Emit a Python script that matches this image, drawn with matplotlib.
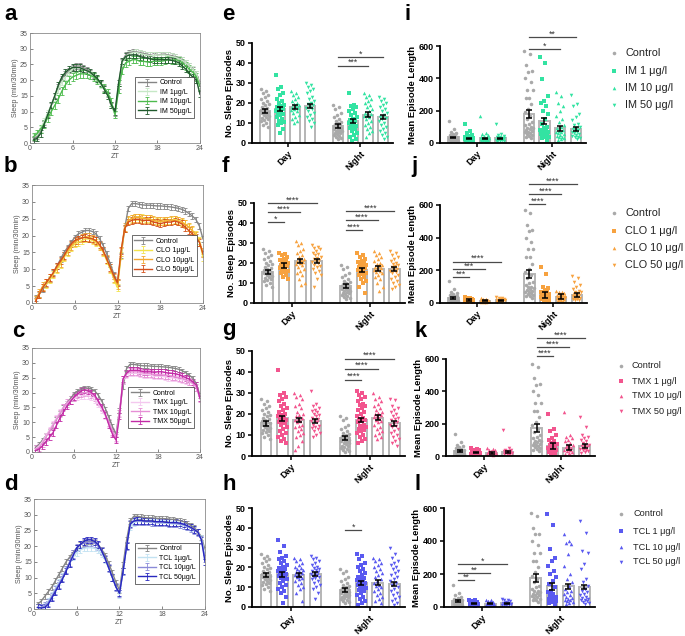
import numpy as np
import matplotlib
matplotlib.use('Agg')
import matplotlib.pyplot as plt
from matplotlib.lines import Line2D

plt.rcParams['font.family'] = ['Liberation Sans', 'DejaVu Sans']

W, H = 685, 636

# ---------------- sleep profiles (min sleep per 30 min bin) ----------------
zt = np.arange(0.5, 24.01, 0.5)

ctrl_a = [1.5, 2, 4, 6.5, 9, 12, 15, 18, 20.5, 22, 23, 24, 24.5, 24.5, 24, 23.5, 22.5, 21.5, 20.5, 19, 17.5, 15.5, 12, 9.5,
          18, 26, 28, 28.7, 29, 29, 28.8, 28.5, 28.3, 28, 27.8, 28, 28.2, 28.3, 28, 27.8, 27.5, 27, 26.5, 25.5, 24.5, 23.5, 22, 19]
im1 = [2, 2.5, 4.5, 7, 9.5, 12, 14.5, 17, 19.5, 21, 22.5, 23.5, 24, 24, 23.5, 23, 22, 21, 20, 18.5, 17, 15, 12, 9,
       17, 25.5, 27.5, 28.3, 28.7, 28.8, 28.5, 28.2, 28, 27.8, 27.8, 28, 28, 28, 27.8, 27.5, 27.3, 26.8, 26.3, 25.5, 24.5, 23.5, 22, 18.5]
im10 = [2, 3, 4.5, 6, 8, 10, 12, 14, 16.5, 18.5, 20, 21, 21.5, 22, 22, 22, 21.5, 21, 20, 19, 17.5, 16, 13, 9,
        17, 23, 25.5, 26, 26.5, 26.5, 26, 26, 25.8, 25.8, 26, 26, 26, 26.2, 26.5, 26.3, 26.5, 26.3, 25.5, 24.5, 23.5, 22.5, 21, 18]
im50 = [1, 1.5, 3, 6, 9, 12, 15, 18.5, 21, 22.5, 23.5, 24, 24, 24, 23.5, 23, 22.5, 21.5, 20.5, 19, 17, 15, 12, 10,
        19, 26, 27.5, 28, 28, 28, 27.5, 27.2, 27, 26.8, 26.5, 26.5, 26.5, 26.5, 26.5, 26.3, 26, 25.5, 24.5, 23.5, 22, 21, 20, 15.5]

ctrl = [1.5, 2.5, 4, 5.5, 7, 9, 11, 13, 15, 16.5, 18, 19.5, 20.5, 21, 21.5, 21.5, 21.2, 20.5, 19, 17, 14.5, 11.5, 8.5, 6,
        14, 22, 28, 29.5, 29.5, 29.3, 29.1, 29, 29, 28.9, 28.8, 28.8, 28.7, 28.6, 28.5, 28.3, 28.1, 27.8, 27.3, 26.6, 25.8, 24.8, 22.8, 19]
clo1 = [1, 2.5, 4.5, 5.5, 7, 8.5, 10, 11.5, 13.5, 15, 16.5, 17.5, 18, 18.5, 19, 19, 18.5, 18, 17, 15, 12.5, 10, 7, 4.5,
        14, 22, 24.5, 25, 25.5, 25.5, 25.3, 25, 25, 24.5, 24.3, 24, 24.3, 24.5, 24.5, 24.8, 24.5, 24, 23.5, 22.5, 21.5, 20.5, 18.5, 13.5]
clo10 = [1, 3, 5, 6, 7.5, 9, 10.5, 12, 14, 15.5, 17, 18, 18.8, 19.3, 19.5, 19.5, 19, 18.3, 17, 15.3, 13, 10.5, 7.5, 5.5,
         15, 22.5, 24.5, 25, 25.3, 25.3, 25, 25, 24.8, 24.5, 24.3, 24.3, 24.3, 24.3, 24.5, 24.5, 24.3, 24, 23.3, 22.5, 21.5, 20, 18, 15]
clo50 = [0.5, 2.5, 4.5, 6, 7.5, 9, 11, 12.5, 14, 16, 17.5, 18.5, 19, 19.3, 19.5, 19.2, 19, 18.5, 17.3, 15.5, 13, 10.5, 8, 6,
         15.5, 22, 24, 24.5, 24.8, 24.8, 24.5, 24.5, 24.5, 24, 23.8, 23.5, 23.8, 24, 24, 24.3, 24, 23.5, 22.5, 21.5, 20.5, 19.5, 18, 14.5]
tmx1 = [1, 2, 3.5, 5.5, 7.5, 9.5, 11.5, 13.5, 15, 16, 17, 18, 18.5, 19, 19, 19, 18.5, 17.5, 16, 14, 12, 9.5, 6.5, 4.5,
        13, 24, 26, 26.5, 26.5, 26.5, 26.3, 26, 26, 25.8, 25.5, 25.5, 25.5, 25.3, 25, 25, 24.8, 24.5, 24.3, 24, 23.5, 23, 21.5, 18]
tmx10 = [1, 1.5, 3, 5, 7, 9, 11, 13, 15, 16.5, 17.5, 18.5, 19.3, 19.8, 20, 20, 19.5, 18.5, 17, 15, 12.5, 10, 7, 5,
         13, 24.5, 26.5, 27, 27, 27, 26.8, 26.5, 26.5, 26.3, 26, 26, 26, 25.8, 25.8, 25.5, 25.3, 25, 24.8, 24.3, 23.8, 23, 21.8, 18]
tmx50 = [0.5, 1, 2, 3.5, 5, 6.5, 9, 11.5, 13.5, 15.5, 17, 18.5, 19.5, 20.5, 21, 20.5, 20, 19, 17, 15, 12.5, 9, 6, 4,
         12, 24.5, 26.5, 27.5, 27.5, 27.5, 27.3, 27, 27, 27, 26.8, 27, 27, 26.8, 26.5, 26.5, 26.3, 26, 25.5, 25, 24.5, 23.5, 22.5, 18]
tcl1 = [0.5, 0.5, 1, 2.5, 4.5, 6.5, 8.5, 10.5, 12.5, 14.5, 16.5, 18, 18.8, 19.3, 19.5, 19.5, 19.3, 18.8, 17.5, 15.5, 13, 10, 7, 4.5,
        12, 20, 26, 27.5, 27.8, 27.8, 27.8, 27.6, 27.5, 27.5, 27.3, 27.3, 27.3, 27.2, 27, 27, 26.8, 26.5, 26.2, 25.8, 25.3, 24.5, 22.5, 17]
tcl10 = [0.5, 0.5, 1, 2, 4, 6, 8, 10, 12.5, 15, 17.5, 19.5, 20.5, 21, 21.3, 21.3, 21, 20, 18.5, 16, 13, 10, 7, 5,
         12, 20, 27, 28, 28, 28, 27.8, 27.8, 27.7, 27.6, 27.5, 27.5, 27.5, 27.4, 27.3, 27.2, 27, 26.8, 26.3, 25.8, 25, 24.3, 22, 16]
tcl50 = [0.5, 0.3, 0.5, 1.5, 3.5, 5.5, 7.5, 9.5, 12, 14.5, 17, 19.5, 20.5, 21.5, 22, 22, 21.5, 20.5, 18.5, 16, 13, 10, 7, 5,
         12, 20, 27, 28, 28.2, 28.2, 28, 28, 28, 27.8, 27.8, 27.8, 27.6, 27.5, 27.5, 27.5, 27.3, 27, 26.5, 26, 25.3, 24.5, 22, 15]

profile_sem = [0.8, 1.0, 1.2, 1.0]

# ---------------- episode data (individual fish) ----------------
ctrl_eps_day = [27, 26, 25, 24, 23, 22, 21, 20, 19.5, 19, 18, 17.5, 17, 16.5, 16, 16, 15.5, 15, 15, 14.5,
                14, 13.5, 13, 12.5, 12, 11.5, 11, 10, 9, 8]
ctrl_eps_night = [19, 18, 17, 15, 14, 13, 12, 11, 10.5, 10, 9.5, 9, 9, 8.5, 8, 8, 7.5, 7, 7, 6.5, 6, 6, 5.5,
                  5, 5, 4.5, 4, 3.5, 3, 2.5, 2]
ctrl_len_day = [135, 85, 70, 60, 55, 50, 45, 42, 40, 38, 35, 32, 30, 28, 26, 25, 24, 22, 20, 18, 17, 15, 14, 12, 10]
ctrl_len_night = [570, 550, 480, 445, 440, 400, 375, 330, 330, 280, 280, 240, 210, 190, 170, 150, 130, 120, 110,
                  100, 95, 90, 85, 80, 75, 70, 65, 60, 55, 50, 45, 40, 30]

eps_im_day = [[34, 28, 27, 25, 24, 22, 21, 20, 19, 18.5, 18, 17, 16.5, 16, 15.5, 15, 14.5, 14, 13, 12, 11, 10.5, 10, 9, 7, 5],
              [26, 25, 24, 23, 22, 21, 20, 19.5, 19, 18.5, 18, 17.5, 17, 16.5, 16, 15, 14, 13, 12, 11, 10],
              [30, 29, 28, 27, 26, 25, 23, 22, 21, 20, 19.5, 19, 18, 17.5, 17, 16, 15, 14, 13, 12, 11, 10, 8]]
eps_im_night = [[25, 19, 18.5, 18, 17, 16, 15, 14, 13, 12, 11.5, 11, 10.5, 10, 9.5, 9, 8.5, 8, 7.5, 7, 6, 5, 4, 3, 2, 1],
                [25, 24, 23, 22, 21, 20, 19, 18, 17, 16, 15, 14.5, 14, 13.5, 13, 12, 11, 10, 9, 8, 7, 6, 5, 3],
                [23, 22, 21, 20, 19, 18, 17, 16, 15, 14, 13, 12.5, 12, 11, 10, 9, 8, 7, 6, 5, 4, 3, 2]]
eps_clo_day = [[25, 24.5, 24, 23, 22, 21.5, 21, 20.5, 20, 19.5, 19, 18.5, 18, 17.5, 17, 16.5, 16, 15.5, 15, 14, 13, 12],
               [31, 30, 29, 27, 26, 25, 24, 23, 22, 21.5, 21, 20.5, 20, 19.5, 19, 18, 17, 16, 15, 14, 12, 10, 9],
               [29, 28, 27.5, 27, 26, 25, 24.5, 24, 23, 22.5, 22, 21.5, 21, 20.5, 20, 19, 18.5, 18, 17, 16, 15, 14, 12, 8]]
eps_clo_night = [[25, 24, 23, 22, 21, 20.5, 20, 19.5, 19, 18.5, 18, 17.5, 17, 16.5, 16, 15.5, 15, 14.5, 14, 13, 12, 11, 10, 8, 5],
                 [26, 25, 24, 23, 22, 21, 20, 19.5, 19, 18.5, 18, 17.5, 17, 16.5, 16, 15.5, 15, 14, 13, 12, 10, 8, 6],
                 [26, 25, 24, 23, 22, 21, 20, 19.5, 19, 18.5, 18, 17, 16.5, 16, 15.5, 15, 14, 13, 12, 11, 10, 9, 8, 7]]
eps_tmx_day = [[41, 30, 29, 28, 27, 26, 25, 24, 23, 22, 21, 20, 19.5, 19, 18, 17.5, 17, 16.5, 16, 15.5, 15, 14, 13, 12, 11, 10, 9, 8, 7, 6],
               [30, 29, 28, 27, 25, 24, 23, 21, 20, 19.5, 19, 18, 17.5, 17, 16.5, 16, 15, 14.5, 14, 13, 12, 11, 10, 9, 7, 5, 3],
               [31, 25, 24, 23, 22, 21.5, 21, 20, 19.5, 19, 18, 17.5, 17, 16.5, 16, 15, 14.5, 14, 13.5, 13, 12, 11, 10, 9]]
eps_tmx_night = [[31, 30, 29, 28, 27, 26, 25, 24.5, 24, 23, 22, 21, 20, 19, 18, 17.5, 17, 16.5, 16, 15, 14.5, 14, 13.5, 13, 12.5, 12, 11, 10, 9, 8, 7, 6],
                 [30, 28, 27, 26, 25, 24, 23, 22, 21, 20.5, 20, 19.5, 19, 18.5, 18, 17, 16.5, 16, 15, 14, 13, 12, 11, 10, 9, 8],
                 [27, 26.5, 24, 23, 22, 21, 20, 19, 18, 17.5, 17, 16, 15.5, 15, 14.5, 14, 13, 12, 11, 10, 9, 8, 7, 6, 5]]
eps_tcl_day = [[34, 31, 28, 26, 25, 24, 23, 22, 21, 20, 19.5, 19, 18.5, 18, 17.5, 17, 16.5, 16, 15.5, 15, 14.5, 14, 13, 12, 11, 10, 9, 8, 7, 5, 2],
               [25, 24, 23, 22, 21, 20, 19.5, 19, 18.5, 18, 17.5, 17, 16.5, 16, 15.5, 15, 14.5, 14, 13, 12, 11, 10, 9, 7, 3],
               [26, 25, 24, 23, 22, 21, 20, 19.5, 19, 18.5, 18, 17.5, 17, 16.5, 16, 15.5, 15, 14.5, 14, 13, 12, 11, 10, 9, 7, 4]]
eps_tcl_night = [[27, 26, 24, 22, 21, 20, 19, 18, 17, 16, 15, 14.5, 14, 13.5, 13, 12.5, 12, 11.5, 11, 10.5, 10, 9.5, 9, 8.5, 8, 7, 6, 5, 4, 3, 2, 1],
                 [25, 24, 23, 22, 21, 20, 19, 18, 17, 16, 15, 14, 13, 12, 11, 10.5, 10, 9, 8, 7, 6, 5, 4, 3, 2],
                 [30, 27, 25, 23, 22, 21, 20, 19, 18, 17, 16, 15, 14, 13, 12, 11, 10, 9, 8, 7, 6, 5, 4, 3, 2, 1]]

len_im_day = [[115, 75, 60, 50, 45, 40, 35, 32, 30, 28, 26, 25, 24, 22, 20, 18, 17, 16, 15, 14, 12, 10],
              [170, 60, 55, 50, 45, 40, 35, 32, 30, 28, 26, 25, 24, 22, 20, 18, 16, 14, 12, 10],
              [115, 55, 50, 45, 40, 35, 32, 30, 28, 26, 25, 24, 22, 20, 18, 16, 14, 12, 10]]
len_im_night = [[535, 495, 395, 290, 260, 250, 230, 200, 180, 150, 120, 100, 90, 80, 75, 70, 65, 60, 55, 50, 45, 40, 35, 30, 20],
                [315, 290, 250, 230, 200, 170, 150, 130, 110, 100, 90, 80, 75, 70, 65, 60, 55, 50, 45, 40, 35, 30, 25, 20],
                [295, 240, 230, 180, 160, 140, 120, 110, 100, 90, 85, 80, 75, 70, 65, 60, 55, 50, 45, 40, 35, 30, 25]]
len_clo_day = [[35, 30, 28, 25, 22, 20, 18, 17, 16, 15, 14, 13, 12, 11, 10, 9, 8],
               [30, 25, 22, 20, 18, 16, 15, 14, 13, 12, 11, 10, 9, 8, 7],
               [38, 30, 28, 25, 22, 20, 18, 17, 16, 15, 14, 12, 10, 9, 8]]
len_clo_night = [[220, 180, 100, 90, 80, 70, 65, 60, 55, 50, 45, 40, 38, 35, 32, 30, 28, 25, 22, 20, 18, 15],
                 [75, 70, 65, 60, 55, 50, 48, 45, 42, 40, 38, 35, 32, 30, 28, 25, 22, 20, 18, 15],
                 [165, 150, 130, 110, 95, 85, 75, 70, 65, 60, 55, 50, 45, 40, 35, 30, 28, 25, 22, 20, 18]]
len_tmx_day = [[50, 45, 40, 35, 30, 28, 25, 22, 20, 18, 16, 15, 14, 12, 10, 8],
               [50, 45, 40, 35, 30, 25, 22, 20, 18, 16, 15, 14, 12, 10, 8],
               [160, 50, 40, 35, 30, 28, 25, 22, 20, 18, 16, 15, 14, 12, 10]]
len_tmx_night = [[260, 165, 155, 130, 110, 100, 90, 80, 75, 70, 65, 60, 55, 50, 45, 40, 35, 30, 25, 20, 15],
                 [270, 130, 120, 110, 100, 90, 80, 70, 65, 60, 55, 50, 45, 40, 35, 30, 25, 20, 15],
                 [240, 180, 130, 120, 110, 100, 90, 80, 70, 65, 60, 55, 50, 45, 40, 35, 30, 25, 20]]
len_tcl_day = [[45, 40, 35, 30, 28, 25, 22, 20, 18, 16, 15, 14, 12, 10, 8],
               [45, 40, 35, 30, 28, 25, 22, 20, 18, 16, 15, 14, 12, 10],
               [50, 45, 40, 35, 30, 25, 22, 20, 18, 16, 15, 14, 12, 10]]
len_tcl_night = [[565, 500, 350, 300, 280, 250, 220, 200, 180, 160, 140, 120, 100, 90, 80, 70, 60, 55, 50, 45, 40, 35, 30, 25, 20],
                 [445, 400, 390, 380, 320, 250, 200, 170, 150, 130, 110, 100, 90, 80, 70, 60, 55, 50, 45, 40, 35, 30, 25, 20],
                 [520, 450, 340, 330, 260, 230, 170, 150, 130, 110, 100, 90, 80, 70, 60, 55, 50, 45, 40, 35, 30, 25, 20]]

# bar means / sem (Day ctrl,1,10,50 then Night ctrl,1,10,50)
eps_mean = {'IM': [16, 17, 18, 18.5, 8.5, 10.8, 14.2, 12.8],
            'CLO': [15.5, 18.7, 20.8, 21.2, 8.5, 16.5, 17.2, 16.8],
            'TMX': [15.5, 18, 17, 16.5, 8.5, 17, 18.2, 15.5],
            'TCL': [16, 16.5, 16, 16.8, 8.5, 12.3, 12.3, 11.8]}
eps_sem = [1.0, 1.2, 1.0, 1.0, 1.0, 1.0, 1.2, 1.0]
len_mean = {'IM': [35, 30, 30, 28, 180, 135, 90, 85],
            'CLO': [30, 18, 15, 17, 175, 50, 38, 47],
            'TMX': [32, 20, 18, 25, 175, 62, 52, 60],
            'TCL': [35, 20, 20, 22, 178, 125, 125, 120]}
len_sem = [5, 4, 4, 4, 25, 20, 15, 12]

drugs = ['IM', 'CLO', 'TMX', 'TCL']
profile_colors = {'IM': ['#858585', '#c6e8c6', '#4dbb4d', '#1f5a2c'],
                  'CLO': ['#858585', '#f3e34a', '#f2a830', '#d4501a'],
                  'TMX': ['#858585', '#f4c8ef', '#e68fd6', '#c22aa6'],
                  'TCL': ['#858585', '#c2e2f2', '#8a8ad8', '#2828bf']}
dot_color = {'IM': '#33e3a2', 'CLO': '#f7a23f', 'TMX': '#f2558e', 'TCL': '#5a5af0'}
ctrl_dot = '#a9a9a9'

# significance: (from bar, to bar, y, stars)
sig_eps = {'IM': [(4, 6, 38.7, '***'), (4, 7, 43, '*')],
           'CLO': [(0, 1, 40.6, '*'), (0, 2, 45.5, '****'), (0, 3, 50, '****'),
                   (4, 5, 36.4, '****'), (4, 6, 41.4, '****'), (4, 7, 46, '****')],
           'TMX': [(4, 5, 36.4, '****'), (4, 6, 41.6, '****'), (4, 7, 46.4, '****')],
           'TCL': [(4, 5, 39, '*')]}
sig_len = {'IM': [(4, 6, 581, '*'), (4, 7, 657, '**')],
           'CLO': [(0, 1, 159, '***'), (0, 2, 207, '***'), (0, 3, 254, '****'),
                   (4, 5, 606, '****'), (4, 6, 665, '****'), (4, 7, 728, '****')],
           'TMX': [(4, 5, 618, '****'), (4, 6, 676, '****'), (4, 7, 732, '****')],
           'TCL': [(0, 1, 163, '**'), (0, 2, 207, '**'), (0, 3, 260, '*')]}

# pixel boxes (left, top, right, bottom)
rect_prof = [(30, 33, 200, 143), (32, 185, 203, 303), (32, 348, 200, 452), (34, 499, 205, 609)]
rect_eps = [(252, 43, 393, 143), (254, 203, 405, 303), (252, 351, 405, 456), (252, 508, 405, 607)]
rect_len = [(440, 46, 586, 143), (440, 205, 587, 303), (446, 359, 595, 456), (444, 508, 595, 607)]
leg_pos = [(614, 625, [53, 71, 88, 105], 7.8), (614, 625, [213, 231, 248, 265], 7.8),
           (621, 632, [366, 381, 396, 411], 6.6), (621, 633, [514, 531, 547, 562], 6.6)]

xpos = [0, 1, 2, 3, 4.8, 5.8, 6.8, 7.8]


def box(l, t, r, b):
    return [l / W, 1 - b / H, (r - l) / W, (b - t) / H]


fig = plt.figure(figsize=(W / 100, H / 100), dpi=100)


def profile_panel(rect, curves, drug):
    ax = fig.add_axes(box(*rect))
    names = ['Control', drug + ' 1µg/L', drug + ' 10µg/L', drug + ' 50µg/L']
    for y, lab, c, s in zip(curves, names, profile_colors[drug], profile_sem):
        ax.errorbar(zt, y, yerr=s, color=c, lw=1.0, elinewidth=0.6, capsize=1.2,
                    capthick=0.6, label=lab)
    ax.set_xlim(0, 24)
    ax.set_ylim(0, 35)
    ax.set_xticks([0, 6, 12, 18, 24])
    ax.set_yticks(range(0, 36, 5))
    ax.tick_params(labelsize=5, colors='#555555', length=2, width=0.5, direction='in', pad=1.5)
    for s in ax.spines.values():
        s.set_color('#8a8a8a')
        s.set_linewidth(0.6)
    ax.set_ylabel('Sleep (min/30min)', fontsize=5.2, color='#555555', labelpad=1)
    ax.set_xlabel('ZT', fontsize=5.2, color='#555555', labelpad=1)
    leg = ax.legend(loc='lower right', bbox_to_anchor=(0.985, 0.2), fontsize=5, handlelength=2.6,
                    labelspacing=0.35, borderpad=0.4, handletextpad=0.5, fancybox=False,
                    edgecolor='#333333', framealpha=1)
    leg.get_frame().set_linewidth(0.5)
    return ax


def bar_panel(rect, day, night, ctrl_d, ctrl_n, means, sems, drug, ymax, yticks, ylabel, sig):
    ax = fig.add_axes(box(*rect))
    groups = [ctrl_d] + day + [ctrl_n] + night
    cols = [ctrl_dot] + [dot_color[drug]] * 3
    cols = cols * 2
    marks = ['o', 's', '^', 'v'] * 2
    ax.bar(xpos, means, width=0.66, color='white', edgecolor='#b5b5b5', linewidth=1.4, zorder=1)
    for x, pts, c, m in zip(xpos, groups, cols, marks):
        k = np.arange(len(pts))
        off = ((k * 0.618034) % 1 - 0.5) * 0.56
        ax.scatter(x + off, pts, s=6.5, marker=m, color=c, linewidths=0, zorder=2, clip_on=False)
    ax.errorbar(xpos, means, yerr=sems, fmt='none', ecolor='black', elinewidth=1.1,
                capsize=2.3, capthick=1.1, zorder=3)
    for i0, i1, y, txt in sig:
        ax.plot([xpos[i0], xpos[i1]], [y, y], color='#4a4a4a', lw=0.9, clip_on=False, zorder=4)
        ax.annotate(txt, xy=((xpos[i0] + xpos[i1]) / 2, y), xytext=(0, 0.3), textcoords='offset points',
                    ha='center', va='baseline', fontsize=6.3, color='#333333', annotation_clip=False)
    ax.set_xlim(-0.85, 8.45)
    ax.set_ylim(0, ymax)
    ax.set_yticks(yticks, labels=[str(t) for t in yticks], fontsize=6.5, fontweight='bold')
    ax.set_xticks([1.5, 6.3], labels=['Day', 'Night'], fontsize=6.5, fontweight='bold',
                  rotation=45, ha='right', rotation_mode='anchor')
    ax.tick_params(axis='both', length=3, width=1.1, pad=1.5)
    ax.spines['top'].set_visible(False)
    ax.spines['right'].set_visible(False)
    ax.spines['left'].set_linewidth(1.3)
    ax.spines['bottom'].set_linewidth(1.3)
    ax.set_ylabel(ylabel, fontsize=6.8, fontweight='bold', labelpad=1.5)
    return ax


def side_legend(x_mark, x_text, ys, drug, size):
    labels = ['Control', drug + ' 1 μg/l', drug + ' 10 μg/l', drug + ' 50 μg/l']
    marks = ['o', 's', '^', 'v']
    cols = [ctrl_dot] + [dot_color[drug]] * 3
    for y, lab, m, c in zip(ys, labels, marks, cols):
        fig.add_artist(Line2D([x_mark / W], [1 - y / H], marker=m, color=c, markersize=2.6,
                              markeredgewidth=0, linestyle='none', transform=fig.transFigure))
        fig.text(x_text / W, 1 - y / H, lab, fontsize=size, va='center', ha='left', color='#222222')


profiles = {'IM': [ctrl_a, im1, im10, im50], 'CLO': [ctrl, clo1, clo10, clo50],
            'TMX': [ctrl, tmx1, tmx10, tmx50], 'TCL': [ctrl, tcl1, tcl10, tcl50]}
eps_data = {'IM': (eps_im_day, eps_im_night), 'CLO': (eps_clo_day, eps_clo_night),
            'TMX': (eps_tmx_day, eps_tmx_night), 'TCL': (eps_tcl_day, eps_tcl_night)}
len_data = {'IM': (len_im_day, len_im_night), 'CLO': (len_clo_day, len_clo_night),
            'TMX': (len_tmx_day, len_tmx_night), 'TCL': (len_tcl_day, len_tcl_night)}

for n, d in enumerate(drugs):
    profile_panel(rect_prof[n], profiles[d], d)
    bar_panel(rect_eps[n], eps_data[d][0], eps_data[d][1], ctrl_eps_day, ctrl_eps_night,
              eps_mean[d], eps_sem, d, 50, [0, 10, 20, 30, 40, 50], 'No. Sleep Episodes', sig_eps[d])
    bar_panel(rect_len[n], len_data[d][0], len_data[d][1], ctrl_len_day, ctrl_len_night,
              len_mean[d], len_sem, d, 600, [0, 200, 400, 600], 'Mean Episode Length', sig_len[d])
    xm, xt, ys, sz = leg_pos[n]
    side_legend(xm, xt, ys, d, sz)

# panel letters
letters = [('a', 4, 20), ('b', 4, 172), ('c', 12, 337), ('d', 4, 490),
           ('e', 222, 20), ('f', 222, 172), ('g', 222, 335), ('h', 222, 490),
           ('i', 404, 20), ('j', 411, 172), ('k', 414, 337), ('l', 414, 490)]
for txt, x, y in letters:
    fig.text(x / W, 1 - y / H, txt, fontsize=16, fontweight='bold', va='baseline', ha='left')

fig.savefig('out.png', dpi=100)
